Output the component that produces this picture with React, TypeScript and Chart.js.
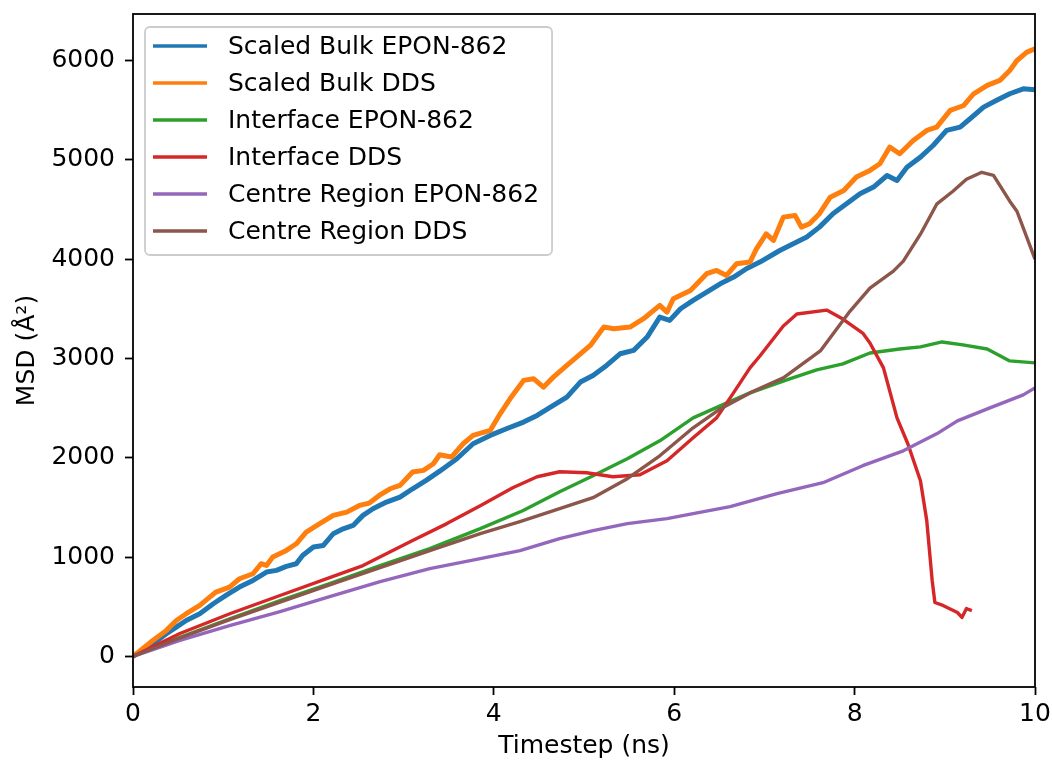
import React, { useEffect, useRef } from 'react';
import { Chart, registerables } from 'chart.js';

Chart.register(...registerables);

const FONT = '"DejaVu Sans", sans-serif';
const FONT_SIZE = 25;

const seriesNames = [
  'Scaled Bulk EPON-862',
  'Scaled Bulk DDS',
  'Interface EPON-862',
  'Interface DDS',
  'Centre Region EPON-862',
  'Centre Region DDS',
];
const seriesColors = ['#1f77b4', '#ff7f0e', '#2ca02c', '#d62728', '#9467bd', '#8c564b'];

const bulkEponX = [0, 0.22, 0.37, 0.48, 0.59, 0.74, 0.89, 1.03, 1.18, 1.33, 1.48, 1.59, 1.7, 1.81, 1.88, 2.0, 2.11, 2.22, 2.33, 2.44, 2.55, 2.66, 2.81, 2.96, 3.1, 3.25, 3.4, 3.59, 3.77, 3.96, 4.14, 4.33, 4.48, 4.66, 4.81, 4.96, 5.1, 5.25, 5.4, 5.55, 5.7, 5.84, 5.95, 6.07, 6.21, 6.36, 6.51, 6.66, 6.8, 6.95, 7.17, 7.32, 7.47, 7.61, 7.76, 7.91, 8.06, 8.21, 8.36, 8.47, 8.58, 8.73, 8.87, 9.02, 9.17, 9.28, 9.43, 9.57, 9.72, 9.87, 10.0];
const bulkEponY = [0, 128, 228, 295, 362, 430, 530, 614, 698, 765, 849, 866, 906, 933, 1017, 1101, 1117, 1235, 1285, 1319, 1420, 1487, 1554, 1604, 1688, 1772, 1865, 1990, 2141, 2225, 2292, 2359, 2426, 2527, 2611, 2762, 2829, 2930, 3047, 3081, 3215, 3416, 3383, 3500, 3584, 3668, 3752, 3819, 3903, 3970, 4087, 4155, 4222, 4322, 4457, 4557, 4658, 4725, 4842, 4792, 4926, 5027, 5144, 5296, 5329, 5413, 5530, 5597, 5665, 5715, 5705];

const bulkDdsX = [0, 0.22, 0.37, 0.48, 0.59, 0.74, 0.85, 0.92, 1.07, 1.18, 1.33, 1.42, 1.48, 1.55, 1.7, 1.81, 1.92, 2.07, 2.22, 2.37, 2.51, 2.62, 2.73, 2.85, 2.96, 3.1, 3.22, 3.33, 3.4, 3.53, 3.66, 3.77, 3.96, 4.07, 4.18, 4.33, 4.44, 4.55, 4.66, 4.81, 4.96, 5.07, 5.22, 5.33, 5.51, 5.66, 5.84, 5.92, 5.99, 6.18, 6.36, 6.47, 6.58, 6.69, 6.84, 6.91, 7.02, 7.1, 7.21, 7.34, 7.41, 7.5, 7.61, 7.73, 7.88, 8.02, 8.17, 8.28, 8.39, 8.5, 8.65, 8.8, 8.91, 9.06, 9.21, 9.32, 9.47, 9.61, 9.72, 9.8, 9.91, 10.0];
const bulkDdsY = [0, 161, 262, 362, 430, 513, 597, 648, 698, 782, 832, 933, 916, 1000, 1067, 1134, 1252, 1336, 1420, 1453, 1520, 1544, 1621, 1688, 1722, 1856, 1873, 1940, 2030, 2007, 2141, 2225, 2275, 2443, 2594, 2779, 2796, 2711, 2812, 2930, 3047, 3131, 3316, 3299, 3316, 3400, 3534, 3466, 3601, 3685, 3853, 3886, 3836, 3953, 3970, 4100, 4255, 4188, 4423, 4440, 4322, 4356, 4457, 4624, 4691, 4826, 4893, 4960, 5128, 5061, 5195, 5296, 5329, 5497, 5547, 5665, 5749, 5799, 5900, 6000, 6084, 6118];

const ifaceEponX = [0, 0.52, 1.08, 1.63, 2.18, 2.74, 3.29, 3.85, 4.32, 4.73, 5.1, 5.48, 5.84, 6.21, 6.51, 6.84, 7.28, 7.58, 7.87, 8.17, 8.5, 8.73, 8.97, 9.2, 9.47, 9.72, 10.0];
const ifaceEponY = [0, 191, 382, 563, 734, 915, 1085, 1286, 1467, 1658, 1819, 1990, 2171, 2402, 2523, 2653, 2794, 2884, 2945, 3055, 3095, 3116, 3166, 3136, 3095, 2975, 2955];

const ifaceDdsX = [0, 0.52, 1.08, 1.63, 2.18, 2.55, 2.77, 3.1, 3.48, 3.85, 4.21, 4.48, 4.73, 5.03, 5.32, 5.62, 5.92, 6.21, 6.47, 6.65, 6.84, 6.95, 7.21, 7.36, 7.69, 7.87, 8.09, 8.17, 8.32, 8.47, 8.59, 8.73, 8.8, 8.86, 8.89, 8.98, 9.14, 9.19, 9.24, 9.27, 9.3];
const ifaceDdsY = [0, 231, 432, 613, 794, 915, 1015, 1166, 1337, 1518, 1698, 1809, 1859, 1849, 1809, 1829, 1970, 2201, 2402, 2643, 2905, 3025, 3327, 3447, 3487, 3397, 3256, 3156, 2905, 2402, 2141, 1769, 1367, 764, 543, 513, 442, 392, 482, 470, 462];

const centreEponX = [0, 0.52, 1.08, 1.63, 2.18, 2.74, 3.29, 3.85, 4.29, 4.73, 5.1, 5.48, 5.92, 6.21, 6.62, 7.14, 7.65, 8.09, 8.54, 8.91, 9.14, 9.5, 9.87, 10.0];
const centreEponY = [0, 161, 312, 452, 603, 754, 884, 985, 1065, 1186, 1266, 1337, 1387, 1437, 1508, 1638, 1749, 1920, 2070, 2241, 2372, 2503, 2633, 2704];

const centreDdsX = [0, 0.52, 1.08, 2.18, 3.29, 3.85, 4.29, 4.73, 5.1, 5.48, 5.84, 6.21, 6.51, 6.84, 7.21, 7.62, 7.95, 8.17, 8.43, 8.54, 8.73, 8.91, 9.09, 9.24, 9.41, 9.54, 9.72, 9.8, 10.0];
const centreDdsY = [0, 185, 372, 720, 1065, 1236, 1357, 1487, 1598, 1789, 2020, 2302, 2492, 2653, 2804, 3075, 3477, 3709, 3879, 3980, 4251, 4553, 4683, 4804, 4874, 4844, 4583, 4482, 4000];

const seriesX = [bulkEponX, bulkDdsX, ifaceEponX, ifaceDdsX, centreEponX, centreDdsX];
const seriesY = [bulkEponY, bulkDdsY, ifaceEponY, ifaceDdsY, centreEponY, centreDdsY];
const seriesWidths = [5, 5, 3.4, 3.4, 3.4, 3.4];

const xTicks = [0, 2, 4, 6, 8, 10];
const yTicks = [0, 1000, 2000, 3000, 4000, 5000, 6000];
const xLabel = 'Timestep (ns)';
const yLabel = 'MSD (Å²)';

const framePlugin = {
  id: 'mplFrame',
  afterDatasetsDraw(chart: any) {
    const { ctx, chartArea: a } = chart;
    ctx.save();
    ctx.strokeStyle = '#000';
    ctx.lineWidth = 1.8;
    ctx.strokeRect(a.left, a.top, a.right - a.left, a.bottom - a.top);

    // legend
    const left = a.left + 12;
    const top = a.top + 13;
    const rowH = 37;
    const firstRow = 19;
    ctx.font = `${FONT_SIZE}px ${FONT}`;
    const textX = left + 83;
    let maxW = 0;
    chart.data.datasets.forEach((d: any) => {
      maxW = Math.max(maxW, ctx.measureText(d.label).width);
    });
    const w = textX - left + maxW + 13;
    const h = firstRow + rowH * (chart.data.datasets.length - 1) + 24;
    ctx.beginPath();
    ctx.roundRect(left, top, w, h, 5);
    ctx.fillStyle = 'rgba(255,255,255,0.8)';
    ctx.fill();
    ctx.strokeStyle = '#cccccc';
    ctx.lineWidth = 1.8;
    ctx.stroke();
    chart.data.datasets.forEach((d: any, i: number) => {
      const y = top + firstRow + i * rowH;
      ctx.beginPath();
      ctx.moveTo(left + 8, y);
      ctx.lineTo(left + 62, y);
      ctx.strokeStyle = d.borderColor;
      ctx.lineWidth = 3.4;
      ctx.stroke();
      ctx.fillStyle = '#000';
      ctx.textBaseline = 'middle';
      ctx.textAlign = 'left';
      ctx.fillText(d.label, textX, y + 1);
    });
    ctx.restore();
  },
};

export default function App() {
  const ref = useRef<HTMLCanvasElement | null>(null);

  useEffect(() => {
    document.body.style.margin = '0';
    const canvas = ref.current;
    if (!canvas) return;
    const datasets = seriesNames.map((name, i) => ({
      label: name,
      data: seriesX[i].map((x, j) => ({ x, y: seriesY[i][j] })),
      borderColor: seriesColors[i],
      backgroundColor: seriesColors[i],
      borderWidth: seriesWidths[i],
      pointRadius: 0,
      tension: 0,
      fill: false,
      order: seriesNames.length - i,
      borderJoinStyle: 'round' as const,
    }));
    const tickFont = { family: FONT, size: FONT_SIZE };
    const chart = new Chart(canvas, {
      type: 'line',
      data: { datasets },
      options: {
        animation: false,
        responsive: false,
        devicePixelRatio: 1,
        layout: { padding: { top: 14, right: 17, left: 0, bottom: 0 } },
        plugins: { legend: { display: false }, tooltip: { enabled: false } },
        scales: {
          x: {
            type: 'linear',
            min: 0,
            max: 10,
            afterFit(s: any) { s.height = 75; s.paddingLeft = 0; s.paddingRight = 0; s.paddingTop = 0; s.paddingBottom = 0; },
            afterBuildTicks(s: any) { s.ticks = xTicks.map((v) => ({ value: v })); },
            ticks: { font: tickFont, color: '#000', padding: 4, maxRotation: 0, autoSkip: false, callback: (v: any) => String(v) },
            grid: { display: true, drawOnChartArea: false, drawTicks: true, tickLength: 8, tickWidth: 1.8, tickColor: '#000' },
            border: { display: false },
            title: { display: true, text: xLabel, font: tickFont, color: '#000', padding: { top: 0, bottom: 1 } },
          },
          y: {
            type: 'linear',
            min: -308,
            max: 6468,
            afterFit(s: any) { s.width = 133; s.paddingLeft = 0; s.paddingRight = 0; s.paddingTop = 0; s.paddingBottom = 0; },
            afterBuildTicks(s: any) { s.ticks = yTicks.map((v) => ({ value: v })); },
            ticks: { font: tickFont, color: '#000', padding: 10, autoSkip: false, callback: (v: any) => String(v) },
            grid: { display: true, drawOnChartArea: false, drawTicks: true, tickLength: 8, tickWidth: 1.8, tickColor: '#000' },
            border: { display: false },
            title: { display: true, text: yLabel, font: tickFont, color: '#000', padding: { top: 12, bottom: 0 } },
          },
        },
      },
      plugins: [framePlugin],
    });
    return () => chart.destroy();
  }, []);

  return (
    <div style={{ width: 1052, height: 762 }}>
      <canvas ref={ref} width={1052} height={762} />
    </div>
  );
}
